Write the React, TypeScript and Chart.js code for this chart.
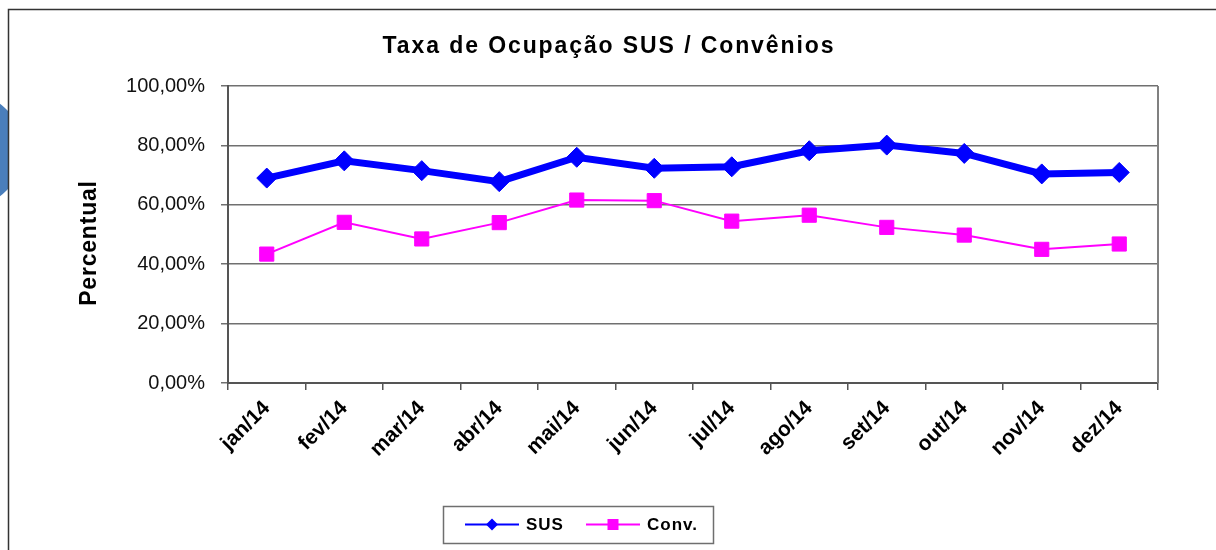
import React, { useEffect, useRef } from "react";
import { Chart, registerables } from "chart.js";

Chart.register(...registerables);

const categories = ["jan/14", "fev/14", "mar/14", "abr/14", "mai/14", "jun/14", "jul/14", "ago/14", "set/14", "out/14", "nov/14", "dez/14"];
const susValues = [69.0, 74.8, 71.5, 67.8, 76.0, 72.3, 72.8, 78.2, 80.1, 77.3, 70.4, 70.9];
const convValues = [43.4, 54.1, 48.5, 54.0, 61.6, 61.4, 54.5, 56.5, 52.4, 49.8, 45.0, 46.8];
const seriesNames = ["SUS", "Conv."];
const chartTitle = "Taxa de Ocupação SUS / Convênios";
const yAxisTitle = "Percentual";

const FONT = "'Liberation Sans', Arial, sans-serif";
const SUS_COLOR = "#0000FF";
const CONV_COLOR = "#FF00FF";

const decorPlugin = {
  id: "decor",
  beforeDraw(chart: any) {
    const ctx = chart.ctx;
    ctx.save();
    ctx.fillStyle = "#ffffff";
    ctx.fillRect(0, 0, chart.width, chart.height);
    // blue slide blob at far left
    ctx.save();
    ctx.beginPath();
    ctx.rect(0, 0, 8, chart.height);
    ctx.clip();
    ctx.fillStyle = "#4A7EBB";
    ctx.beginPath();
    ctx.arc(-35, 150, 58, 0, Math.PI * 2);
    ctx.fill();
    ctx.restore();
    // outer frame
    ctx.strokeStyle = "#333333";
    ctx.lineWidth = 1.5;
    ctx.beginPath();
    ctx.moveTo(8.5, chart.height);
    ctx.lineTo(8.5, 9.5);
    ctx.lineTo(chart.width, 9.5);
    ctx.stroke();
    ctx.restore();
  },
  afterDraw(chart: any) {
    const ctx = chart.ctx;
    const area = chart.chartArea;
    ctx.save();
    // plot area right border
    ctx.strokeStyle = "#808080";
    ctx.lineWidth = 2;
    ctx.beginPath();
    ctx.moveTo(area.right, area.top);
    ctx.lineTo(area.right, area.bottom);
    ctx.stroke();

    // title
    ctx.fillStyle = "#000000";
    ctx.font = `bold 23px ${FONT}`;
    (ctx as any).letterSpacing = "1.9px";
    ctx.textAlign = "center";
    ctx.textBaseline = "middle";
    ctx.fillText(chartTitle, chart.width / 2 + 1, 47);

    // y axis title
    (ctx as any).letterSpacing = "0.8px";
    ctx.save();
    ctx.translate(90, 243);
    ctx.rotate(-Math.PI / 2);
    ctx.font = `bold 23px ${FONT}`;
    ctx.fillText(yAxisTitle, 0, 0);
    ctx.restore();

    // legend
    (ctx as any).letterSpacing = "1px";
    const bx = 443.5, by = 506.5, bw = 270, bh = 37;
    ctx.fillStyle = "#ffffff";
    ctx.fillRect(bx, by, bw, bh);
    ctx.strokeStyle = "#6f6f6f";
    ctx.lineWidth = 1.5;
    ctx.strokeRect(bx, by, bw, bh);
    const ly = 524.5;
    // SUS
    ctx.strokeStyle = SUS_COLOR;
    ctx.lineWidth = 2;
    ctx.beginPath();
    ctx.moveTo(465, ly);
    ctx.lineTo(519, ly);
    ctx.stroke();
    ctx.fillStyle = SUS_COLOR;
    ctx.beginPath();
    ctx.moveTo(492 - 6, ly);
    ctx.lineTo(492, ly - 6);
    ctx.lineTo(492 + 6, ly);
    ctx.lineTo(492, ly + 6);
    ctx.closePath();
    ctx.fill();
    // Conv
    ctx.strokeStyle = CONV_COLOR;
    ctx.beginPath();
    ctx.moveTo(586, ly);
    ctx.lineTo(640, ly);
    ctx.stroke();
    ctx.fillStyle = CONV_COLOR;
    ctx.fillRect(613 - 5.5, ly - 5.5, 11, 11);
    ctx.fillStyle = "#000000";
    ctx.font = `bold 17px ${FONT}`;
    ctx.textAlign = "left";
    ctx.textBaseline = "middle";
    ctx.fillText(seriesNames[0], 526, ly + 1);
    ctx.fillText(seriesNames[1], 647, ly + 1);
    ctx.restore();
  },
};

export default function App() {
  const canvasRef = useRef<HTMLCanvasElement | null>(null);

  useEffect(() => {
    if (!canvasRef.current) return;
    const chart = new Chart(canvasRef.current, {
      type: "line",
      data: {
        labels: categories,
        datasets: [
          {
            label: seriesNames[0],
            data: susValues,
            borderColor: SUS_COLOR,
            backgroundColor: SUS_COLOR,
            borderWidth: 7,
            pointStyle: "rectRot",
            pointRadius: 10,
            pointBorderWidth: 1,
            pointBackgroundColor: SUS_COLOR,
            pointBorderColor: SUS_COLOR,
            tension: 0,
          },
          {
            label: seriesNames[1],
            data: convValues,
            borderColor: CONV_COLOR,
            backgroundColor: CONV_COLOR,
            borderWidth: 2,
            pointStyle: "rect",
            pointRadius: 10,
            pointBorderWidth: 1,
            pointBackgroundColor: CONV_COLOR,
            pointBorderColor: CONV_COLOR,
            tension: 0,
          },
        ],
      },
      options: {
        animation: false,
        responsive: false,
        maintainAspectRatio: false,
        layout: { padding: { left: 78, top: 86, right: 58, bottom: 0 } },
        plugins: {
          legend: { display: false },
          title: { display: false },
          tooltip: { enabled: false },
        },
        scales: {
          x: {
            type: "category",
            offset: true,
            grid: {
              offset: true,
              drawOnChartArea: false,
              drawTicks: true,
              tickLength: 7,
              color: "#555555",
              lineWidth: 1.5,
            },
            border: { display: true, color: "#555555", width: 2 },
            ticks: {
              color: "#000000",
              font: { family: FONT, size: 21, weight: "bold" },
              maxRotation: 45,
              minRotation: 45,
              padding: 6,
              autoSkip: false,
            },
            afterFit(scale: any) {
              scale.height = 167;
            },
          },
          y: {
            min: 0,
            max: 100,
            grid: {
              color: "#707070",
              lineWidth: 1.5,
              drawTicks: true,
              tickLength: 7,
            },
            border: { display: true, color: "#555555", width: 2 },
            ticks: {
              stepSize: 20,
              color: "#111111",
              padding: 16,
              font: { family: FONT, size: 20 },
              callback: (v: any) => Number(v).toFixed(2).replace(".", ",") + "%",
            },
            afterFit(scale: any) {
              scale.width = 150;
            },
          },
        },
      },
      plugins: [decorPlugin],
    });
    return () => chart.destroy();
  }, []);

  return (
    <div style={{ position: "absolute", left: 0, top: 0, width: 1216, height: 550, background: "#fff" }}>
      <canvas ref={canvasRef} width={1216} height={550} style={{ display: "block" }} />
    </div>
  );
}
